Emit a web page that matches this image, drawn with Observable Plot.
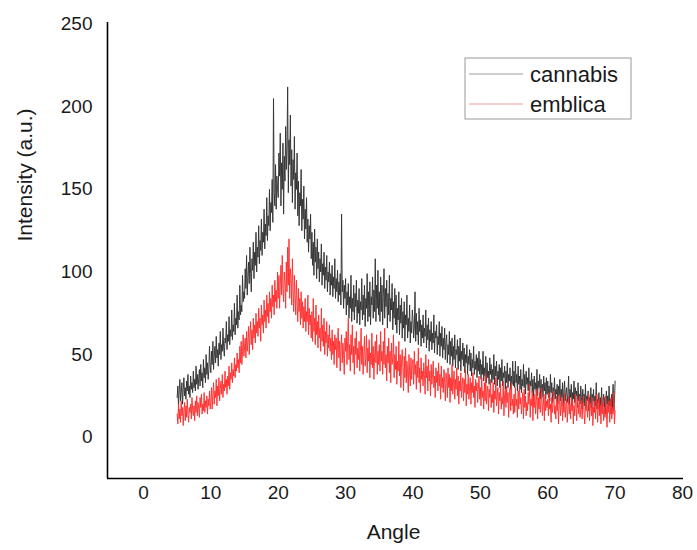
<!DOCTYPE html>
<html>
<head>
<meta charset="utf-8">
<script src="https://cdn.jsdelivr.net/npm/d3@7"></script>
<script src="https://cdn.jsdelivr.net/npm/@observablehq/plot@0.6"></script>
<style>
  html, body { margin: 0; padding: 0; background: #fff; }
  #chart { width: 697px; height: 550px; }
</style>
</head>
<body>
<div id="chart"></div>
<script>
// Angle grid: 5° to 70° in 0.1° steps (instrument step)
const angleStart = 5;
const angleStep = 0.1;

// Intensity readings (a.u.); each line = 2.5°
const cannabis = [
  24,31,19,28,35,22,27,33,20,29,36,25,30,23,34,28,38,26,31,24,37,29,33,27,40,
  30,35,28,43,32,38,29,36,41,31,44,34,39,30,47,36,42,33,50,38,45,35,41,55,43,
  39,52,44,58,41,49,55,45,61,48,53,43,57,50,64,47,56,52,66,54,49,60,57,70,53,
  62,58,73,56,65,61,77,59,68,64,81,62,72,68,86,66,76,71,92,74,80,76,98,82,88,
  84,102,90,110,86,97,106,93,115,99,88,108,101,118,96,112,104,124,100,115,109,128,105,119,113,
  132,110,124,118,138,114,129,122,145,119,134,128,150,125,142,136,156,130,205,148,140,165,138,158,150,
  145,172,158,184,140,166,150,178,135,170,155,188,162,176,212,148,180,165,195,152,174,142,168,156,182,
  138,160,150,172,134,155,128,148,140,162,125,144,132,152,120,138,126,145,118,132,112,128,120,135,108,
  124,104,118,98,126,106,115,96,120,102,112,94,108,100,117,92,105,98,112,90,103,95,110,88,100,
  94,106,86,99,92,104,85,97,90,108,84,96,88,101,82,94,86,99,80,135,88,95,78,92,84,
  96,74,88,80,93,72,85,78,98,70,84,76,92,71,87,79,95,69,83,75,90,68,82,77,96,
  71,86,74,92,67,84,78,99,70,88,73,94,68,85,80,97,72,89,76,108,70,92,78,101,74,
  88,70,97,76,92,68,85,102,72,90,79,95,66,87,74,98,70,84,77,93,65,82,72,90,68,
  86,63,78,71,88,62,80,69,84,60,76,66,82,58,74,68,86,60,72,64,80,57,70,63,77,
  72,60,66,88,58,75,62,70,56,78,64,71,55,68,60,74,57,66,61,77,54,68,59,72,52,
  65,58,70,53,63,57,74,51,64,60,68,50,61,56,70,49,63,55,67,48,60,53,66,47,58,
  62,45,56,50,64,44,58,49,60,43,55,47,62,42,53,50,59,41,55,46,60,40,52,47,57,
  43,54,39,50,45,56,38,49,44,53,40,51,37,47,42,55,38,46,41,50,36,48,40,52,38,
  47,35,44,38,52,34,42,37,49,33,45,36,40,32,48,38,44,33,41,35,50,32,43,37,46,
  31,40,35,44,30,42,34,47,31,39,36,43,29,40,33,45,30,38,34,42,29,37,32,46,31,
  40,30,46,33,38,28,43,32,37,29,41,27,35,31,44,30,38,26,40,32,36,28,42,25,34,
  31,39,27,35,24,37,29,33,26,41,25,34,30,38,23,35,27,32,24,37,28,33,23,36,26,
  34,24,31,22,38,27,33,21,30,25,36,23,29,26,32,20,31,25,35,22,29,24,33,19,28,
  34,22,27,30,21,26,37,20,29,24,32,19,27,23,34,21,30,25,28,18,33,22,26,20,31,
  24,17,29,21,26,19,32,18,25,22,28,16,24,20,30,18,26,22,29,15,25,19,33,17,23,
  21,27,16,24,19,30,15,22,26,18,24,14,28,20,25,17,31,19,23,14,26,18,32,16,22,
  34
];
const emblica = [
  14,8,20,11,17,9,22,13,18,7,16,21,10,19,12,23,14,9,18,15,20,11,24,16,13,
  19,10,22,15,25,13,21,17,12,24,18,26,14,20,16,27,15,22,18,25,14,23,19,28,17,
  22,30,17,26,33,20,28,24,35,19,31,25,36,22,29,34,26,38,24,32,28,40,30,35,26,
  37,31,43,29,39,35,45,33,41,37,48,36,44,40,51,42,47,39,55,45,58,44,52,62,49,
  54,60,48,64,52,58,67,50,62,70,56,65,53,72,60,68,57,75,63,70,61,78,66,72,58,
  80,68,74,63,83,70,77,66,86,73,81,69,88,76,84,72,92,79,86,74,95,82,89,78,100,
  84,98,78,92,104,86,110,90,82,100,94,78,106,88,115,92,120,84,102,96,80,108,90,76,98,
  86,74,95,82,70,90,76,84,68,88,72,82,66,79,70,84,64,76,70,86,62,78,68,74,60,
  76,58,84,64,72,56,80,62,70,54,74,60,66,52,78,58,68,55,72,50,64,57,70,49,62,
  54,68,52,60,47,65,50,58,44,62,53,60,42,56,66,48,58,40,54,62,45,57,50,38,60,
  52,64,44,58,72,47,56,40,62,50,68,45,55,38,60,50,64,42,54,47,58,40,52,66,44,
  55,38,50,61,43,48,62,39,54,46,59,36,51,44,63,42,55,35,49,58,45,62,38,52,44,
  56,40,64,46,52,38,58,44,66,42,50,34,55,45,60,39,52,33,57,44,48,62,36,50,41,
  55,32,46,40,58,37,50,30,45,53,42,28,49,36,54,33,46,39,27,50,40,31,48,35,44,
  47,32,52,38,44,29,46,36,54,33,42,27,48,35,40,31,45,38,26,50,36,43,28,47,34,
  40,25,44,32,38,46,30,37,24,42,33,40,28,45,31,38,23,43,30,36,27,41,33,22,39,
  35,24,42,30,38,21,36,28,44,26,33,40,23,35,29,42,25,37,20,34,28,39,24,31,36,
  22,35,27,41,19,32,26,38,23,30,36,20,33,27,39,24,31,18,35,28,33,21,29,37,23,
  30,19,36,24,28,17,33,22,38,20,27,31,16,29,24,35,18,26,21,33,15,28,23,36,19,
  25,30,14,27,22,32,17,24,20,34,13,26,29,18,31,21,27,12,25,30,16,33,19,23,14,
  26,15,30,19,23,12,28,17,31,20,24,14,22,27,11,29,18,25,13,21,16,27,20,32,12,
  23,19,28,10,25,18,26,14,22,29,11,24,17,27,15,21,30,13,19,24,10,26,16,22,18,
  23,13,27,17,20,9,24,15,21,28,14,19,11,25,16,22,8,20,26,13,18,24,10,21,15,
  27,12,19,23,9,17,25,14,20,11,24,16,22,8,19,13,26,18,10,23,20,14,25,12,17,
  22,11,18,25,14,8,20,16,23,12,19,26,10,17,21,13,24,7,18,15,22,11,20,26,9,
  16,23,13,19,8,24,14,21,10,18,12,25,17,6,20,15,22,9,19,24,11,18,14,27,8,
  16
];

const xTicks = [0, 10, 20, 30, 40, 50, 60, 70, 80];
const yTicks = [0, 50, 100, 150, 200, 250];
const seriesNames = ["cannabis", "emblica"];
const seriesColors = ["#333333", "#ff2e2e"];
const legendColors = ["#a0a0a0", "#f39a9a"];

const data = cannabis.map((v, i) => ({
  angle: +(angleStart + i * angleStep).toFixed(2),
  cannabis: v,
  emblica: emblica[i]
}));

const font = "'Liberation Sans', Arial, Helvetica, sans-serif";
const xMin = -5.34, xMax = 80.15, yMin = -25, yMax = 251;

const chart = Plot.plot({
  width: 697,
  height: 550,
  marginLeft: 107,
  marginRight: 14,
  marginTop: 22,
  marginBottom: 72,
  style: { fontFamily: font, color: "#000", background: "#fff" },
  x: { domain: [xMin, xMax], axis: null },
  y: { domain: [yMin, yMax], axis: null },
  marks: [
    Plot.lineY(data, { x: "angle", y: "cannabis", stroke: seriesColors[0], strokeWidth: 0.95 }),
    Plot.lineY(data, { x: "angle", y: "emblica", stroke: seriesColors[1], strokeWidth: 0.95 }),
    Plot.ruleX([xMin], { stroke: "#000", strokeWidth: 1.6 }),
    Plot.ruleY([yMin], { stroke: "#000", strokeWidth: 1.6 }),
    Plot.text(xTicks, { x: d => d, frameAnchor: "bottom", dy: 20, fontSize: 19, fill: "#1a1a1a" }),
    Plot.text(yTicks, { y: d => d, frameAnchor: "left", dx: -15, textAnchor: "end", fontSize: 19, fill: "#1a1a1a" }),
    Plot.text(["Angle"], { frameAnchor: "bottom", dx: -2, dy: 60, fontSize: 21, fill: "#1a1a1a" }),
    Plot.text(["Intensity (a.u.)"], { frameAnchor: "left", rotate: -90, dx: -82, dy: -9, fontSize: 21, fill: "#1a1a1a" })
  ]
});

// Legend box (top-right inside plot area)
const svg = d3.select(chart);
const lg = svg.append("g").attr("font-family", font).attr("text-anchor", "start");
lg.append("rect").attr("x", 465).attr("y", 58).attr("width", 166).attr("height", 61)
  .attr("fill", "#fff").attr("stroke", "#9a9a9a").attr("stroke-width", 1);
seriesNames.forEach((name, i) => {
  const y = 74 + i * 30;
  lg.append("line").attr("x1", 469).attr("x2", 523).attr("y1", y).attr("y2", y)
    .attr("stroke", legendColors[i]).attr("stroke-width", 1);
  lg.append("text").attr("x", 530).attr("y", y + 8).attr("font-size", 22).attr("fill", "#1a1a1a").text(name);
});

document.getElementById("chart").appendChild(chart);
</script>
</body>
</html>
